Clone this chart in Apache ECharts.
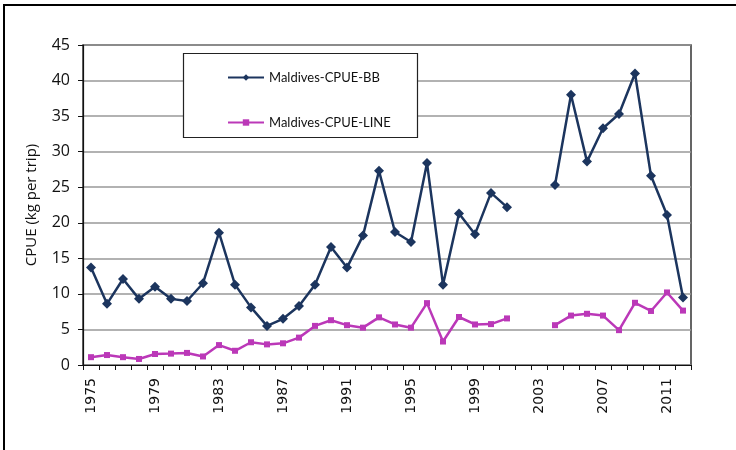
<!DOCTYPE html>
<html>
<head>
<meta charset="utf-8">
<script src="https://cdn.jsdelivr.net/npm/echarts@6/dist/echarts.min.js"></script>
<style>
  html, body { margin: 0; padding: 0; background: #fff; }
  #main { width: 736px; height: 450px; }
</style>
</head>
<body>
<div id="main"></div>
<script>
var years = [];
for (var y = 1975; y <= 2012; y++) years.push(String(y));

// CPUE values (null = no data)
var bb = [13.7, 8.6, 12.1, 9.3, 11.0, 9.3, 9.0, 11.5, 18.6, 11.3,
          8.1, 5.5, 6.5, 8.3, 11.3, 16.6, 13.7, 18.2, 27.3, 18.7,
          17.3, 28.4, 11.3, 21.3, 18.4, 24.2, 22.2, null, null, 25.3,
          38.0, 28.6, 33.3, 35.3, 41.0, 26.6, 21.1, 9.5];
var line = [1.1, 1.4, 1.1, 0.85, 1.55, 1.6, 1.7, 1.2, 2.8, 2.0,
            3.2, 2.9, 3.05, 3.85, 5.5, 6.3, 5.6, 5.25, 6.7, 5.7,
            5.25, 8.7, 3.3, 6.75, 5.7, 5.75, 6.55, null, null, 5.6,
            6.95, 7.2, 6.95, 4.9, 8.75, 7.6, 10.2, 7.65];

var myChart = echarts.init(document.getElementById('main'));

var option = {
    animation: false,
    graphic: [
        { type: 'rect', shape: { x: 4, y: 5, width: 800, height: 500 },
          style: { fill: 'none', stroke: '#000', lineWidth: 2 }, z: 0 },
        { type: 'rect', shape: { x: 183.5, y: 53.5, width: 234, height: 84 },
          style: { fill: '#fff', stroke: '#222', lineWidth: 1.2 }, z: 5 }
    ],
    legend: {
        orient: 'vertical',
        left: 222,
        top: 66,
        itemGap: 32,
        itemWidth: 36,
        itemHeight: 8,
        itemStyle: { borderWidth: 0 },
        z: 10,
        textStyle: { fontFamily: 'Lato', fontSize: 13, color: '#111' },
        data: ['Maldives-CPUE-BB', 'Maldives-CPUE-LINE']
    },
    grid: { left: 83, right: 45, top: 45, bottom: 85, show: true,
            borderColor: '#333', borderWidth: 1.5 },
    xAxis: {
        type: 'category',
        data: years,
        boundaryGap: true,
        axisLine: { lineStyle: { color: '#111', width: 1.2 } },
        axisTick: { show: true, interval: 0, length: 5, lineStyle: { color: '#111' } },
        axisLabel: { interval: 3, rotate: 90, fontFamily: 'DejaVu Sans',
                     fontSize: 14, color: '#111', margin: 13 }
    },
    yAxis: {
        type: 'value',
        min: 0, max: 45, interval: 5,
        name: 'CPUE (kg per trip)',
        nameLocation: 'middle',
        nameGap: 44,
        nameTextStyle: { fontFamily: 'Open Sans', fontSize: 15, color: '#111' },
        axisLine: { show: true, lineStyle: { color: '#111', width: 1.2 } },
        axisTick: { show: true, length: 5, lineStyle: { color: '#111' } },
        axisLabel: { fontFamily: 'Open Sans', fontSize: 16, color: '#111', margin: 13 },
        splitLine: { lineStyle: { color: '#999', width: 1.5 } }
    },
    series: [
        {
            name: 'Maldives-CPUE-BB',
            type: 'line',
            data: bb,
            connectNulls: false,
            symbol: 'diamond',
            symbolSize: 10,
            color: '#1C355E',
            lineStyle: { width: 2.5 },
            itemStyle: { color: '#1C355E' },
            z: 3
        },
        {
            name: 'Maldives-CPUE-LINE',
            type: 'line',
            data: line,
            connectNulls: false,
            symbol: 'rect',
            symbolSize: 6,
            color: '#BB38B8',
            lineStyle: { width: 2.5 },
            itemStyle: { color: '#BB38B8' },
            z: 2
        }
    ]
};

myChart.setOption(option);
</script>
</body>
</html>
